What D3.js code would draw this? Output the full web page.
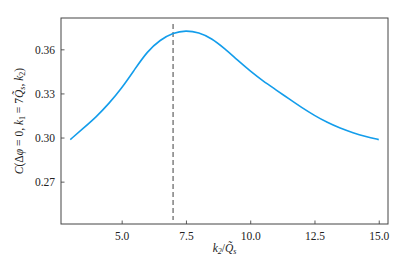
<!DOCTYPE html>
<html><head><meta charset="utf-8">
<script src="https://cdn.jsdelivr.net/npm/d3@7"></script>
<style>body{margin:0;background:#fff}svg{display:block}</style>
</head><body>
<svg id="c" width="407" height="271"></svg>
<script>
const xValues = [3.0,3.5,4.0,4.5,5.0,5.5,6.0,6.5,7.0,7.5,8.0,8.5,9.0,9.5,10.0,10.5,11.0,11.5,12.0,12.5,13.0,13.5,14.0,14.5,15.0];
const yValues = [0.2986,0.3062,0.3138,0.3230,0.3335,0.3462,0.3587,0.3665,0.3713,0.3729,0.3715,0.3675,0.3606,0.3527,0.3452,0.3384,0.3325,0.3264,0.3204,0.3150,0.3102,0.3063,0.3032,0.3007,0.2986];
const xTicks = [5.0,7.5,10.0,12.5,15.0];
const yTicks = [0.27,0.30,0.33,0.36];
const vlineX = 7;

const svg = d3.select("#c");
const L=61,R=388,T=18,B=224;
const x = d3.scaleLinear().domain([2.64,15.36]).range([L,R]);
const y = d3.scaleLinear().domain([0.2412,0.3813]).range([B,T]);
const font = "'Liberation Serif','DejaVu Serif',serif";

// dashed vertical line
svg.append("line").attr("x1",x(vlineX)).attr("x2",x(vlineX))
  .attr("y1",T+6).attr("y2",B-4)
  .attr("stroke","#777").attr("stroke-width",1.4).attr("stroke-dasharray","5,3");

const data = xValues.map((v,i)=>[v,yValues[i]]);
svg.append("path").datum(data)
  .attr("d", d3.line().x(d=>x(d[0])).y(d=>y(d[1])).curve(d3.curveBasis))
  .attr("fill","none").attr("stroke","#139DEB").attr("stroke-width",1.6);

// axes
const xa = svg.append("g").attr("transform",`translate(0,${B})`)
  .call(d3.axisBottom(x).tickValues(xTicks).tickFormat(d3.format(".1f")).tickSizeInner(-3.5).tickSizeOuter(0).tickPadding(8));
const ya = svg.append("g").attr("transform",`translate(${L},0)`)
  .call(d3.axisLeft(y).tickValues(yTicks).tickFormat(d3.format(".2f")).tickSizeInner(-3.5).tickSizeOuter(0).tickPadding(6));
[xa,ya].forEach(g=>{
  g.select(".domain").remove();
  g.selectAll(".tick line").attr("stroke","#333").attr("stroke-width",0.8);
  g.selectAll(".tick text").attr("font-family",font).attr("font-size",11.5).attr("fill","#222");
});

// frame
svg.append("rect").attr("x",L).attr("y",T).attr("width",R-L).attr("height",B-T)
  .attr("fill","none").attr("stroke","#444").attr("stroke-width",1);

// x label
const xl = svg.append("text").attr("x",(L+R)/2).attr("y",252).attr("text-anchor","middle")
  .attr("font-family",font).attr("font-size",11.5).attr("font-style","italic").attr("fill","#222");
xl.append("tspan").text("k");
xl.append("tspan").attr("font-size",8).attr("dy",2).text("2");
xl.append("tspan").attr("dy",-2).attr("font-style","normal").text("/");
xl.append("tspan").text("Q\u0303");
xl.append("tspan").attr("font-size",8).attr("dy",2).text("s");

// y label
const yl = svg.append("text").attr("transform",`translate(23,${(T+B)/2}) rotate(-90)`).attr("text-anchor","middle")
  .attr("font-family",font).attr("font-size",11.5).attr("fill","#222");
yl.append("tspan").attr("font-style","italic").text("C");
yl.append("tspan").text("(\u0394");
yl.append("tspan").attr("font-style","italic").text("\u03C6");
yl.append("tspan").text(" = 0, ");
yl.append("tspan").attr("font-style","italic").text("k");
yl.append("tspan").attr("font-size",8).attr("dy",2).text("1");
yl.append("tspan").attr("dy",-2).text(" = 7");
yl.append("tspan").attr("font-style","italic").text("Q\u0303");
yl.append("tspan").attr("font-size",8).attr("dy",2).attr("font-style","italic").text("s");
yl.append("tspan").attr("dy",-2).text(", ");
yl.append("tspan").attr("font-style","italic").text("k");
yl.append("tspan").attr("font-size",8).attr("dy",2).text("2");
yl.append("tspan").attr("dy",-2).text(")");
</script>
</body></html>
